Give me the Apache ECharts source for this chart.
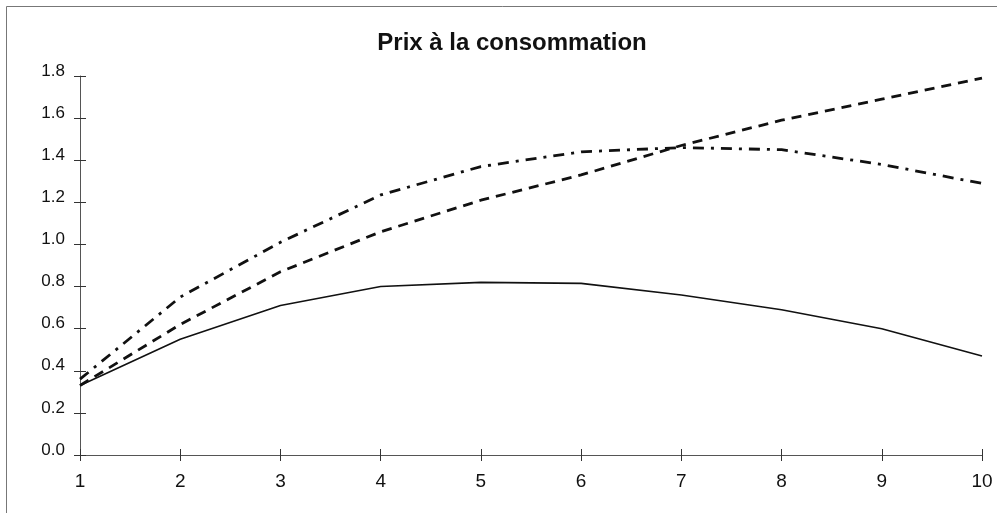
<!DOCTYPE html>
<html>
<head>
<meta charset="utf-8">
<script src="https://cdn.jsdelivr.net/npm/echarts@6/dist/echarts.min.js"></script>
<style>
  html, body { margin: 0; padding: 0; background: #fff; }
  #main { width: 997px; height: 513px; }
</style>
</head>
<body>
<div id="main"></div>
<script>
// annees apres le choc
var periodes = ['1', '2', '3', '4', '5', '6', '7', '8', '9', '10'];
// trois scenarios
var serieTrait = [0.33, 0.55, 0.71, 0.80, 0.82, 0.815, 0.76, 0.69, 0.60, 0.47];
var serieTirets = [0.33, 0.62, 0.87, 1.06, 1.21, 1.33, 1.47, 1.59, 1.69, 1.79];
var serieMixte = [0.36, 0.75, 1.01, 1.235, 1.37, 1.44, 1.46, 1.45, 1.38, 1.29];
var titre = 'Prix à la consommation';

var police = 'Arial, "Liberation Sans", sans-serif';

var myChart = echarts.init(document.getElementById('main'));
var option = {
  backgroundColor: '#fff',
  animation: false,
  title: {
    text: titre,
    left: 507,
    top: 26,
    textAlign: 'center',
    textStyle: { fontFamily: police, fontSize: 24, fontWeight: 'bold', color: '#111' }
  },
  graphic: [{
    type: 'rect',
    shape: { x: 6.5, y: 6.5, width: 1000, height: 520 },
    style: { fill: 'none', stroke: '#777', lineWidth: 1 },
    silent: true
  }],
  grid: { left: 80, right: 15, top: 76, bottom: 58 },
  xAxis: [{
    type: 'category',
    data: periodes,
    boundaryGap: false,
    axisLine: { lineStyle: { color: '#555', width: 1 } },
    axisTick: { length: 6, lineStyle: { color: '#333' } },
    axisLabel: { margin: 17, fontFamily: police, fontSize: 19, color: '#111' },
    splitLine: { show: false }
  }, {
    type: 'category',
    data: periodes,
    boundaryGap: false,
    position: 'bottom',
    axisLine: { show: false },
    axisTick: { inside: true, length: 6, lineStyle: { color: '#333' } },
    axisLabel: { show: false },
    splitLine: { show: false }
  }],
  yAxis: [{
    type: 'value',
    min: 0,
    max: 1.8,
    interval: 0.2,
    axisLine: { show: true, lineStyle: { color: '#555', width: 1 } },
    axisTick: { show: true, length: 6, lineStyle: { color: '#333' } },
    axisLabel: { margin: 15, fontFamily: police, fontSize: 17, color: '#111',
      verticalAlign: 'bottom', lineHeight: 10,
      formatter: function (v) { return v.toFixed(1); } },
    splitLine: { show: false }
  }, {
    type: 'value',
    min: 0,
    max: 1.8,
    interval: 0.2,
    position: 'left',
    axisLine: { show: false },
    axisTick: { show: true, inside: true, length: 6, lineStyle: { color: '#333' } },
    axisLabel: { show: false },
    splitLine: { show: false }
  }],
  series: [{
    name: 'trait',
    type: 'line',
    data: serieTrait,
    symbol: 'none',
    lineStyle: { color: '#111', width: 1.6, type: 'solid' }
  }, {
    name: 'tirets',
    type: 'line',
    data: serieTirets,
    symbol: 'none',
    lineStyle: { color: '#111', width: 2.8, type: [10, 7] }
  }, {
    name: 'mixte',
    type: 'line',
    data: serieMixte,
    symbol: 'none',
    lineStyle: { color: '#111', width: 2.8, type: [11, 7, 3, 7] }
  }]
};
myChart.setOption(option);
</script>
</body>
</html>
